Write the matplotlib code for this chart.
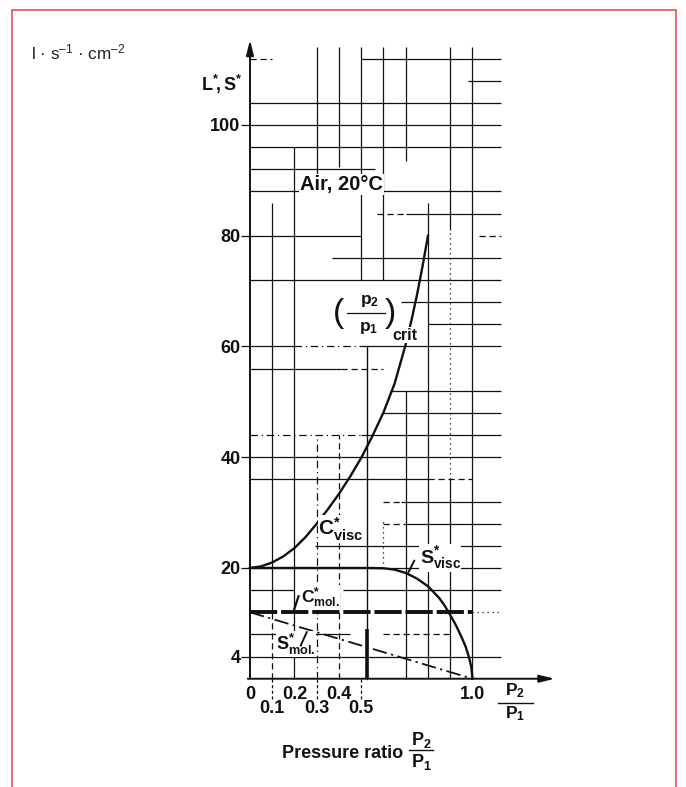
import matplotlib
matplotlib.use("Agg")
import matplotlib.pyplot as plt
from matplotlib.patches import Rectangle

plt.rcParams["font.family"] = ["Liberation Sans", "DejaVu Sans"]
plt.rcParams["mathtext.fontset"] = "custom"
plt.rcParams["mathtext.rm"] = "Liberation Sans"
plt.rcParams["mathtext.bf"] = "Liberation Sans:bold"
plt.rcParams["mathtext.it"] = "Liberation Sans:italic"

# ---- conductance / throughput values for air at 20 °C (l·s^-1·cm^-2) ----
cvisc_ratio = [0, 0.05, 0.1, 0.15, 0.2, 0.25, 0.3, 0.35, 0.4, 0.45, 0.5, 0.55,
               0.6, 0.65, 0.7, 0.725, 0.75, 0.775, 0.80]
cvisc_value = [20, 20.3, 21.0, 22.1, 23.6, 25.6, 28.0, 30.6, 33.4, 36.5, 39.9,
               43.8, 48.1, 53.3, 60.4, 64.6, 69.2, 74.4, 80.0]

svisc_ratio = [0, 0.53, 0.6, 0.65, 0.7, 0.75, 0.8, 0.85, 0.875, 0.9, 0.925,
               0.95, 0.97, 0.985, 0.995, 1.0]
svisc_value = [20, 20, 19.95, 19.7, 19.1, 18.1, 16.7, 14.6, 13.2, 11.5, 9.7,
               7.6, 5.7, 3.8, 2.0, 0]

cmol_ratio = [0, 1.0]
cmol_value = [12, 12]

smol_ratio = [0, 1.0]
smol_value = [12, 0]

crit_ratio = 0.528

y_ticks = [4, 20, 40, 60, 80, 100]
x_ticks_upper = [0, 0.2, 0.4, 1.0]
x_labels_upper = ["0", "0.2", "0.4", "1.0"]
x_ticks_lower = [0.1, 0.3, 0.5]
x_labels_lower = ["0.1", "0.3", "0.5"]

# ---- figure ----
W, H = 686, 787
fig = plt.figure(figsize=(W / 100, H / 100), dpi=100)
fig.patch.set_facecolor("white")
ax = fig.add_axes([0.3482, 0.1235, 0.4703, 0.8373])
ax.set_xlim(-0.05, 1.40)
ax.set_ylim(-2, 117)
ax.set_facecolor("none")

for side in ("top", "right"):
    ax.spines[side].set_visible(False)
ax.spines["left"].set_position(("data", 0))
ax.spines["bottom"].set_position(("data", 0))
ax.spines["left"].set_visible(False)
ax.spines["bottom"].set_visible(False)

INK = "#111111"
SOLID, DASH, DDOT, DOT = "-", (0, (5, 3)), (0, (6, 3, 1, 3)), (0, (1, 3))

# grid: horizontal segments (value, from, to, style)
h_grid = [
    (112, 0.5, 1.13, SOLID), (112, 0, 0.1, DASH),
    (108, 0.98, 1.13, SOLID),
    (104, 0, 1.13, SOLID), (100, 0, 1.13, SOLID), (96, 0, 1.13, SOLID),
    (92, 0, 0.56, SOLID), (88, 0, 1.13, SOLID),
    (84, 0.7, 1.13, SOLID), (84, 0.57, 0.7, DASH),
    (80, 0, 0.5, SOLID), (80, 1.03, 1.13, DASH),
    (76, 0.37, 1.13, SOLID), (72, 0, 1.13, SOLID),
    (68, 0.68, 1.13, SOLID), (64, 0.8, 1.13, SOLID),
    (60, 0, 0.2, SOLID), (60, 0.2, 0.49, DDOT), (60, 0.49, 1.13, SOLID),
    (56, 0, 0.41, SOLID), (56, 0.41, 0.6, DASH),
    (52, 0.63, 1.13, SOLID), (48, 0.6, 1.13, SOLID),
    (44, 0, 0.5, DDOT), (44, 0.5, 1.13, SOLID),
    (40, 0, 1.13, SOLID),
    (36, 0, 0.8, SOLID), (36, 0.8, 1.0, DASH),
    (32, 0.68, 1.13, SOLID), (32, 0.6, 0.68, DASH),
    (28, 0.7, 1.13, SOLID), (28, 0.6, 0.7, DASH),
    (24, 0.29, 1.13, SOLID), (20, 0, 1.13, SOLID),
    (16, 0, 0.2, SOLID), (16, 0.42, 1.13, SOLID),
    (12, 1.0, 1.13, DOT),
    (8, 0, 0.45, SOLID), (8, 0.6, 0.9, DASH),
    (4, 0, 1.13, SOLID),
]
# grid: vertical segments (ratio, from, to, style)
v_grid = [
    (0.1, 12, 86, SOLID), (0.1, 0, 12, DASH),
    (0.2, 0, 96, SOLID),
    (0.3, 88.5, 114, SOLID), (0.3, 0, 44, DDOT),
    (0.4, 92.5, 114, SOLID), (0.4, 0, 44, DASH),
    (0.5, 72, 114, SOLID),
    (0.6, 72, 114, SOLID), (0.6, 20, 29, DOT),
    (0.7, 93.5, 114, SOLID), (0.7, 0, 52, SOLID),
    (0.8, 0, 86, SOLID),
    (0.9, 81, 114, SOLID), (0.9, 36, 81, DOT), (0.9, 0, 36, SOLID),
    (1.0, 0, 114, SOLID),
]
for yv, x0, x1, ls in h_grid:
    ax.plot([x0, x1], [yv, yv], color=INK, lw=0.9, ls=ls, zorder=1,
            clip_on=False, solid_capstyle="butt")
for xv, y0, y1, ls in v_grid:
    ax.plot([xv, xv], [y0, y1], color=INK, lw=0.9, ls=ls, zorder=1,
            clip_on=False, solid_capstyle="butt")

# critical pressure ratio marker
ax.plot([crit_ratio, crit_ratio], [0, 60], color=INK, lw=1.0, zorder=2)
ax.plot([crit_ratio, crit_ratio], [0, 9], color=INK, lw=2.6, zorder=2,
        solid_capstyle="butt")

# dashed leaders from the axis to the lower tick labels
for xv in x_ticks_lower:
    ax.plot([xv, xv], [0, -3.8], color=INK, lw=0.9, ls=(0, (2.5, 2)),
            clip_on=False, zorder=1)

# ---- curves ----
ax.plot(cvisc_ratio, cvisc_value, color=INK, lw=1.7, zorder=3,
        solid_joinstyle="round")
ax.plot(svisc_ratio, svisc_value, color=INK, lw=1.7, zorder=3,
        solid_joinstyle="round")
ax.plot(cmol_ratio, cmol_value, color=INK, lw=2.8, ls=(0, (7, 1.0)),
        zorder=3, solid_capstyle="butt")
ax.plot(smol_ratio, smol_value, color=INK, lw=1.3, ls=(0, (8, 2.5, 1.2, 2.5)),
        zorder=3)

# ---- axes with arrow heads ----
arrow = dict(arrowstyle="-|>,head_length=0.9,head_width=0.22", lw=1.4,
             color=INK, shrinkA=0, shrinkB=0)
ax.annotate("", xy=(0, 115.4), xytext=(0, 0), arrowprops=arrow,
            annotation_clip=False, zorder=4)
ax.annotate("", xy=(1.37, 0), xytext=(-0.01, 0), arrowprops=arrow,
            annotation_clip=False, zorder=4)

# ---- ticks ----
ax.set_yticks(y_ticks, [str(v) for v in y_ticks])
ax.tick_params(axis="y", direction="out", length=6.5, width=0.9, pad=0.3,
               labelsize=13, colors=INK)
ax.set_xticks(x_ticks_upper, x_labels_upper)
ax.set_xticks(x_ticks_lower, x_labels_lower, minor=True)
ax.tick_params(axis="x", which="major", length=0, pad=5.0, labelsize=13,
               colors=INK)
ax.tick_params(axis="x", which="minor", length=0, pad=15.5, labelsize=13,
               colors=INK)
for lbl in ax.get_yticklabels() + ax.get_xticklabels() + ax.get_xticklabels(minor=True):
    lbl.set_fontweight("bold")

# ---- labels inside the chart ----
white = dict(facecolor="white", edgecolor="none", pad=0.6)
ax.text(-0.035, 107.4, r"$\mathbf{L^{*}\!,S^{*}}$", ha="right", va="center",
        fontsize=13, color=INK)
ax.text(0.225, 89.3, "Air, 20°C", ha="left", va="center", fontsize=14.5,
        fontweight="bold", color=INK, bbox=white, zorder=5)

ax.text(0.305, 27.0, r"$\mathbf{C^{*}_{visc}}$", ha="left", va="center",
        fontsize=15, color=INK, bbox=dict(facecolor="white", edgecolor="none", pad=0.2),
        zorder=5)
ax.text(0.762, 21.8, r"$\mathbf{S^{*}_{visc}}$", ha="left", va="center",
        fontsize=14, color=INK, bbox=dict(facecolor="white", edgecolor="none", pad=0.2),
        zorder=5)
ax.plot([0.713, 0.738], [19.3, 21.3], color=INK, lw=1.4, zorder=5)

ax.text(0.228, 14.6, r"$\mathbf{C^{*}_{mol.}}$", ha="left", va="center",
        fontsize=12.5, color=INK, bbox=dict(facecolor="white", edgecolor="none", pad=0.2),
        zorder=5)
ax.plot([0.218, 0.196], [14.9, 12.2], color=INK, lw=1.6, zorder=5)

ax.text(0.117, 6.2, r"$\mathbf{S^{*}_{mol.}}$", ha="left", va="center",
        fontsize=13, color=INK, bbox=dict(facecolor="white", edgecolor="none", pad=0.2),
        zorder=5)
ax.plot([0.228, 0.255], [6.0, 8.4], color=INK, lw=1.4, zorder=5)

# critical pressure ratio label
ax.text(0.400, 66.0, "(", ha="center", va="center", fontsize=24,
        fontweight="light", color=INK, zorder=5)
ax.text(0.630, 66.0, ")", ha="center", va="center", fontsize=24,
        fontweight="light", color=INK, zorder=5)
ax.text(0.535, 68.2, r"$\mathbf{p_2}$", ha="center", va="center", fontsize=12.5,
        color=INK, zorder=5)
ax.plot([0.435, 0.607], [66.0, 66.0], color=INK, lw=0.9, zorder=5)
ax.text(0.535, 63.4, r"$\mathbf{p_1}$", ha="center", va="center", fontsize=12.5,
        color=INK, zorder=5)
ax.text(0.640, 62.0, "crit", ha="left", va="center", fontsize=11.5,
        fontweight="bold", color=INK, zorder=5,
        bbox=dict(facecolor="white", edgecolor="none", pad=0.4))

# fraction next to the x-axis arrow
ax.text(1.19, -2.2, r"$\mathbf{P_2}$", ha="center", va="center", fontsize=12.5,
        color=INK, clip_on=False)
ax.plot([1.115, 1.27], [-4.3, -4.3], color=INK, lw=1.0, clip_on=False)
ax.text(1.19, -6.3, r"$\mathbf{P_1}$", ha="center", va="center", fontsize=12.5,
        color=INK, clip_on=False)

# ---- texts outside the plot ----
fig.text(31 / W, 1 - 52 / H, r"l · s$^{\mathregular{–1}}$ · cm$^{\mathregular{–2}}$",
         ha="left", va="center", fontsize=12.3, color="#222222")
fig.text(282 / W, 1 - 753 / H, "Pressure ratio", ha="left", va="center",
         fontsize=13, fontweight="bold", color=INK)
fig.text(421 / W, 1 - 740 / H, r"$\mathbf{P_2}$", ha="center", va="center",
         fontsize=13, color=INK)
fig.add_artist(plt.Line2D([409 / W, 433 / W], [1 - 750 / H, 1 - 750 / H],
                          color=INK, lw=1.0))
fig.text(421 / W, 1 - 762 / H, r"$\mathbf{P_1}$", ha="center", va="center",
         fontsize=13, color=INK)

# frame around the figure
fig.add_artist(Rectangle((12 / W, -0.02), (676 - 12) / W, 1.02 - 10 / H,
                         transform=fig.transFigure, fill=False,
                         edgecolor="#e2454c", lw=1.1))

fig.savefig("out.png", dpi=100)
